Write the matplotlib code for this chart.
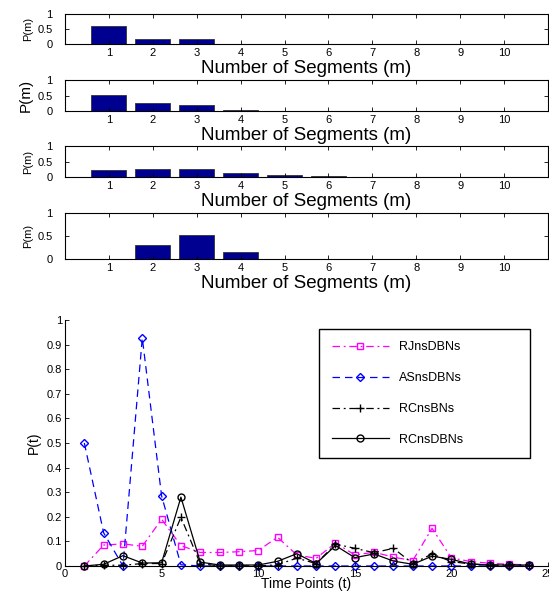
import matplotlib
matplotlib.use("Agg")
import matplotlib.pyplot as plt
import numpy as np

plt.rcParams['font.family'] = ['Liberation Sans', 'DejaVu Sans']

# bar panels: P(m) for m = 1..10
segments = np.arange(1, 11)
pm_1 = [0.59, 0.18, 0.18, 0.008, 0.002, 0.001, 0.001, 0.0, 0.0, 0.0]
pm_2 = [0.505, 0.26, 0.19, 0.03, 0.006, 0.002, 0.001, 0.0, 0.0, 0.0]
pm_3 = [0.22, 0.25, 0.25, 0.14, 0.065, 0.02, 0.006, 0.003, 0.001, 0.0]
pm_4 = [0.0, 0.31, 0.53, 0.145, 0.006, 0.002, 0.001, 0.0, 0.0, 0.0]

# bottom panel: P(t) for t = 1..24
time_points = np.arange(1, 25)
rj = [0.0, 0.085, 0.09, 0.08, 0.19, 0.083, 0.055, 0.055, 0.058, 0.063, 0.117, 0.045,
      0.031, 0.094, 0.045, 0.056, 0.036, 0.022, 0.153, 0.033, 0.018, 0.011, 0.007, 0.005]
asn = [0.50, 0.135, 0.0, 0.927, 0.285, 0.005, 0.0, 0.0, 0.0, 0.0, 0.0, 0.0,
       0.0, 0.0, 0.0, 0.0, 0.0, 0.0, 0.0, 0.0, 0.0, 0.0, 0.0, 0.0]
rc_bn = [0.0, 0.003, 0.003, 0.01, 0.01, 0.198, 0.01, 0.0, 0.0, 0.0, 0.005, 0.032,
         0.01, 0.089, 0.072, 0.054, 0.072, 0.01, 0.049, 0.018, 0.008, 0.004, 0.004, 0.004]
rc_dbn = [0.0, 0.007, 0.042, 0.012, 0.013, 0.28, 0.016, 0.004, 0.004, 0.004, 0.019, 0.05,
          0.01, 0.083, 0.034, 0.049, 0.02, 0.007, 0.04, 0.027, 0.008, 0.004, 0.004, 0.004]

fig = plt.figure(figsize=(5.49, 5.91), dpi=100)

W, H = 549.0, 591.0
# (top, bottom) pixel rows of the four bar panels
rows = [(14, 44), (80, 111), (146, 177), (213, 259)]
bars = [pm_1, pm_2, pm_3, pm_4]
ylab_size = [8, 11, 8, 8]

for (top, bot), vals, ys in zip(rows, bars, ylab_size):
    ax = fig.add_axes([65 / W, 1 - bot / H, 483 / W, (bot - top) / H])
    ax.bar(segments, vals, width=0.8, color='#000090', edgecolor='#333333', linewidth=0.6)
    ax.set_xlim(0, 11)
    ax.set_ylim(0, 1)
    ax.set_xticks(segments)
    ax.set_yticks([0, 0.5, 1])
    ax.set_yticklabels(['0', '0.5', '1'])
    ax.tick_params(direction='in', length=3, width=0.6, labelsize=8,
                   top=True, right=True)
    ax.tick_params(axis='x', pad=3)
    ax.tick_params(axis='y', pad=9)
    ax.set_xlabel('Number of Segments (m)', fontsize=13.5, labelpad=1)
    ax.set_ylabel('P(m)', fontsize=ys, labelpad=3)
    for s in ax.spines.values():
        s.set_linewidth(0.8)

ax = fig.add_axes([65 / W, 1 - 566 / H, 483 / W, 246 / H])
ax.plot(time_points, rj, color='#ff00ff', ls=(0, (6, 3, 1.5, 3)), marker='s', mfc='none', ms=5,
        lw=0.9, label='RJnsDBNs', clip_on=False)
ax.plot(time_points, asn, color='#0000ff', ls=(0, (6, 4)), marker='D', mfc='none', ms=4.5,
        lw=0.9, label='ASnsDBNs', clip_on=False)
ax.plot(time_points, rc_bn, color='black', ls=(0, (6, 3, 1.5, 3)), marker='+', ms=6,
        lw=0.9, label='RCnsBNs', clip_on=False)
ax.plot(time_points, rc_dbn, '-', color='black', marker='o', mfc='none', ms=5,
        lw=0.9, label='RCnsDBNs', clip_on=False)
ax.set_xlim(0, 25)
ax.set_ylim(0, 1)
ax.set_xticks([0, 5, 10, 15, 20, 25])
ax.set_yticks(np.arange(0, 1.01, 0.1))
ax.set_yticklabels(['0', '0.1', '0.2', '0.3', '0.4', '0.5', '0.6', '0.7', '0.8', '0.9', '1'])
ax.tick_params(direction='in', length=3, width=0.6, labelsize=8, pad=2)
ax.spines['top'].set_visible(False)
ax.spines['right'].set_visible(False)
ax.set_xlabel('Time Points (t)', fontsize=10, labelpad=-1)
ax.set_ylabel('P(t)', fontsize=10, labelpad=4)

leg = ax.legend(loc='upper left', bbox_to_anchor=(319 / W, 1 - 329 / H - 0.01, 211 / W, 0.01),
                bbox_transform=fig.transFigure, mode='expand', borderaxespad=0,
                fontsize=9, handlelength=4.6, handletextpad=0.8,
                labelspacing=1.5, borderpad=1.0, fancybox=False, framealpha=1)
leg.get_frame().set_edgecolor('black')
leg.get_frame().set_linewidth(1.0)

plt.savefig('out.png', dpi=100)
